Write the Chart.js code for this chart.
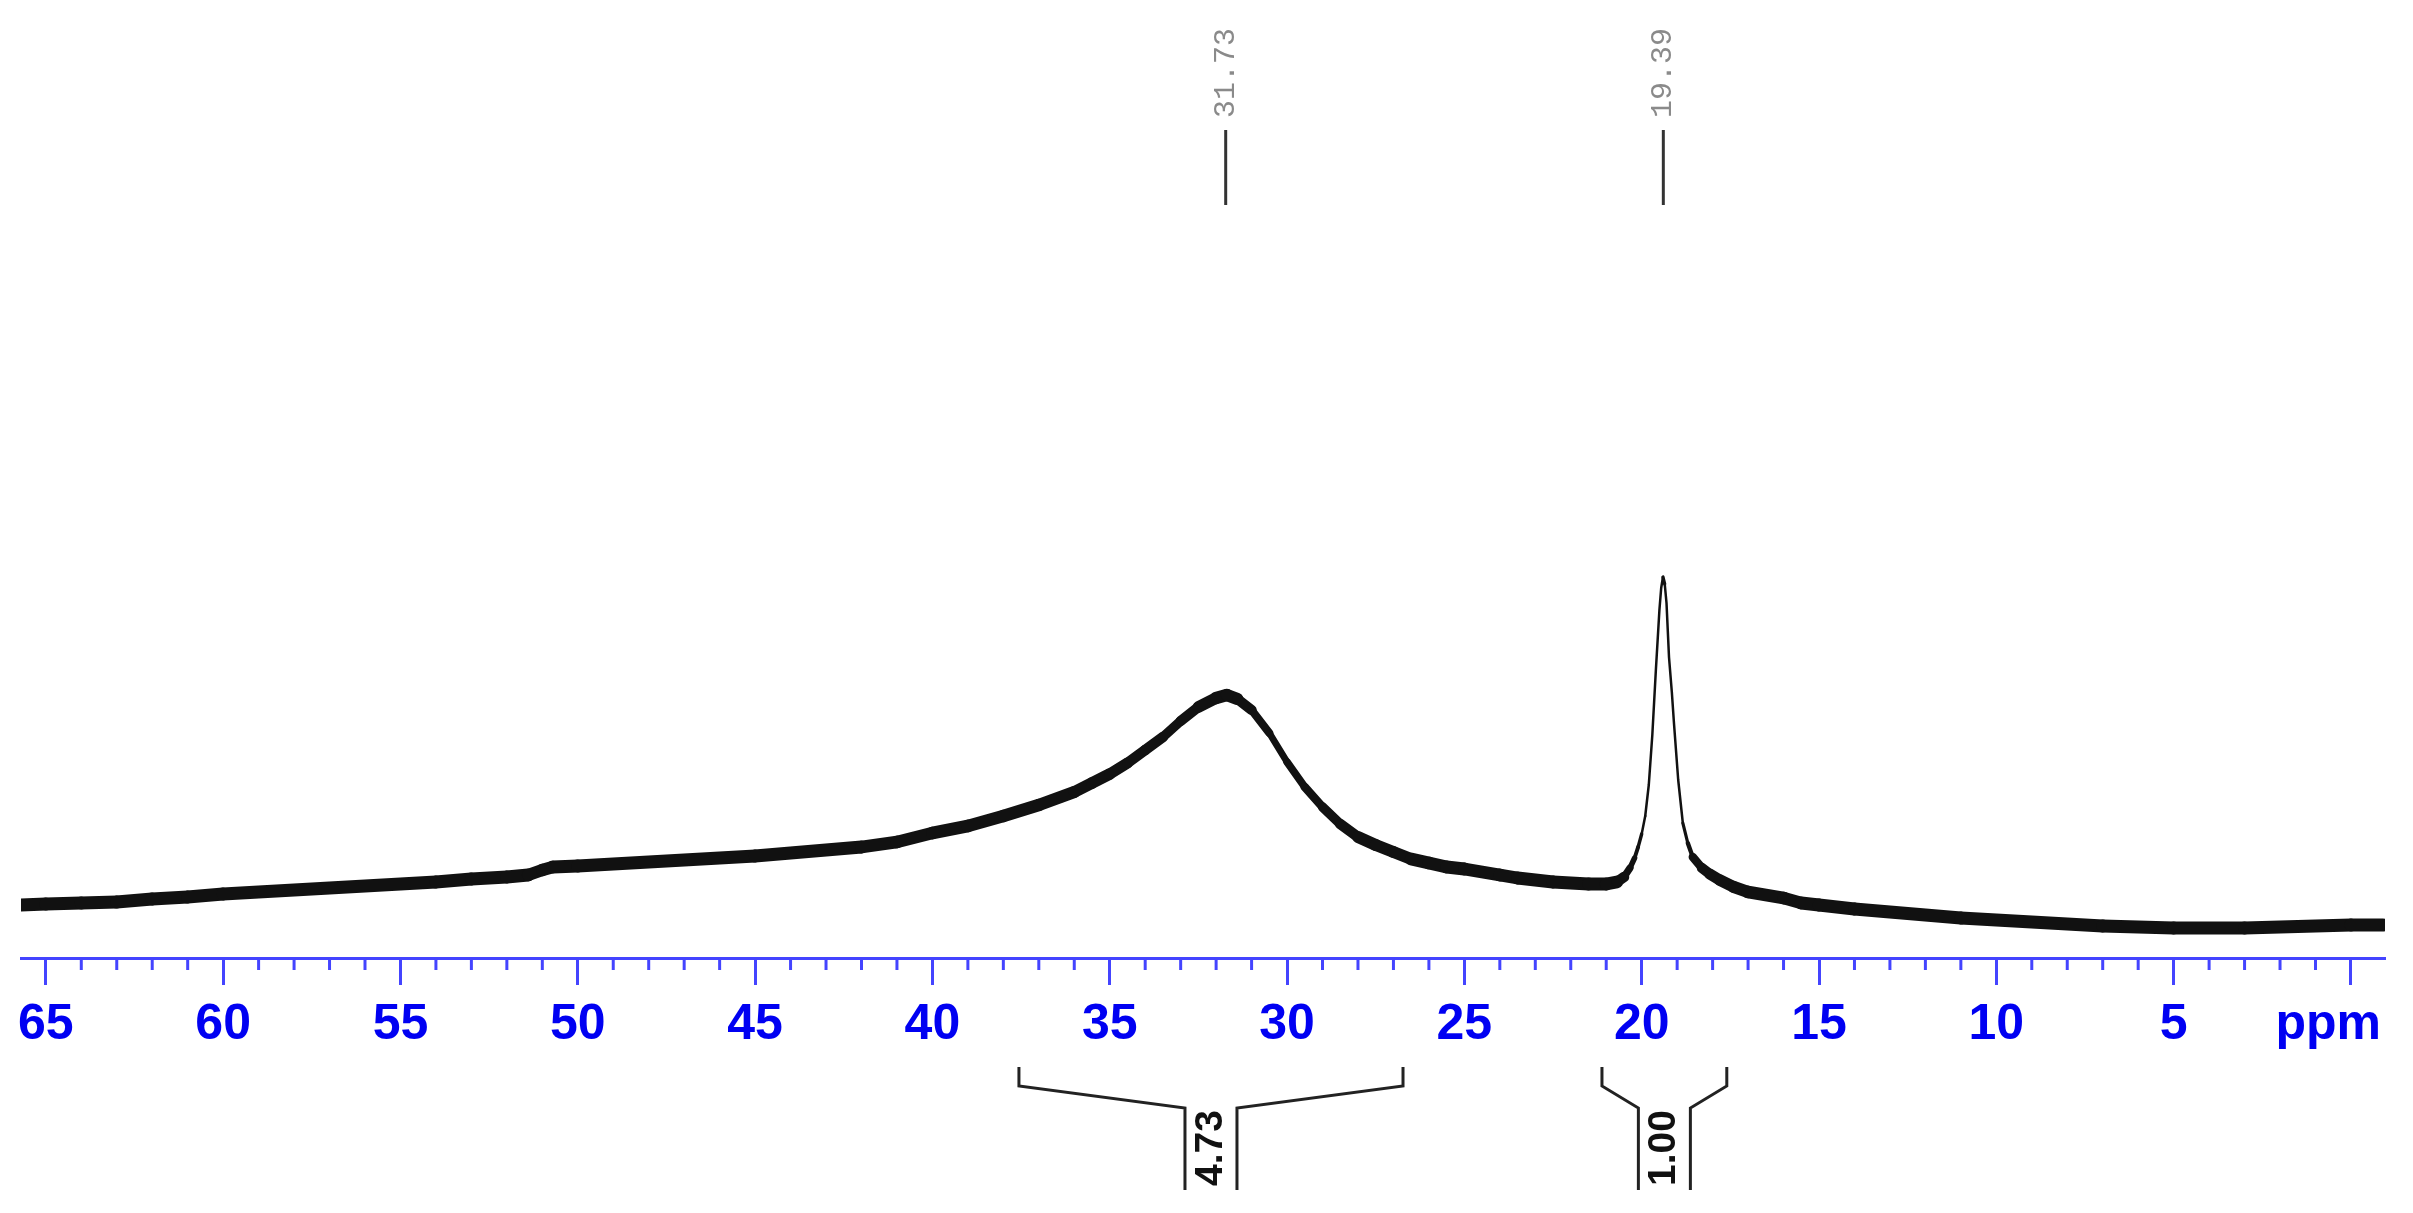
<!DOCTYPE html>
<html>
<head>
<meta charset="utf-8">
<script src="https://cdn.jsdelivr.net/npm/chart.js@4.4.0/dist/chart.umd.min.js"></script>
<style>
  html, body { margin: 0; padding: 0; background: #fff; }
  #wrap { width: 2413px; height: 1213px; position: relative; }
</style>
</head>
<body>
<div id="wrap"><canvas id="spectrum"></canvas></div>
<script>
// Spectrum data (chemical shift in ppm, intensity in arbitrary units)
const shiftPpm = [
  65.7, 65.0, 64.0, 63.0, 62.0, 61.0, 60.0, 59.0, 58.0, 57.0, 56.0, 55.0, 54.0, 53.0, 52.0,
  51.4, 51.0, 50.7, 50.0, 49.0, 48.0, 47.0, 46.0, 45.0, 44.0, 43.0, 42.0, 41.0, 40.0, 39.0,
  38.0, 37.0, 36.0, 35.5, 35.0, 34.5, 34.0, 33.5, 33.0, 32.5, 32.0, 31.7, 31.4, 31.0, 30.5,
  30.0, 29.5, 29.0, 28.5, 28.0, 27.5, 27.0, 26.5, 26.0, 25.5, 25.0, 24.5, 24.0, 23.5, 23.0,
  22.5, 22.0, 21.5, 21.0, 20.7, 20.5, 20.33, 20.2, 20.1, 20.0, 19.9, 19.8, 19.7, 19.6, 19.5,
  19.45, 19.4, 19.35, 19.3, 19.23, 19.15, 19.09, 18.97, 18.84, 18.7, 18.56, 18.3, 18.08, 17.8, 17.4,
  17.0, 16.5, 16.0, 15.5, 15.0, 14.0, 13.0, 12.0, 11.0, 10.0, 9.0, 8.0, 7.0, 6.0, 5.0,
  4.0, 3.0, 2.0, 1.0, 0.0, -0.9
];
const intensity = [
  35, 36, 37, 38, 41, 43, 46, 48, 50, 52, 54, 56, 58, 61, 63,
  65, 70, 73, 74, 76, 78, 80, 82, 84, 87, 90, 93, 98, 107, 114,
  124, 135, 148, 157, 166, 177, 190, 203, 219, 233, 242, 245, 241, 230, 207,
  178, 153, 133, 116, 103, 95, 88, 81, 77, 73, 71, 68, 65, 62, 60,
  58, 57, 56, 56, 58, 63, 72, 82, 93, 106, 124, 155, 205, 270, 330,
  352, 363, 356, 337, 283, 248, 217, 160, 117, 97, 83, 72, 66, 60, 53,
  48, 45, 42, 37, 35, 31, 28, 25, 22, 20, 18, 16, 14, 13, 12,
  12, 12, 13, 14, 15, 15
];

// Axis
const majorTicks = [0, 5, 10, 15, 20, 25, 30, 35, 40, 45, 50, 55, 60, 65];
const axisMin = -0.96;
const axisMax = 65.7;

// Peak picking
const peakShifts = [31.73, 19.39];

// Integrals
const integralFrom = [37.56, 21.12];
const integralTo = [26.73, 17.60];
const integralValues = ['4.73', '1.00'];

const axisBlue = '#4444ff';
const labelBlue = '#0000f2';

const nmrDecor = {
    id: 'nmrDecor',
    afterDraw(chart) {
        const ctx = chart.ctx;
        const xs = chart.scales.x;
        const base = xs.top;
        ctx.save();

        // minor ticks every 1 ppm
        ctx.strokeStyle = axisBlue;
        ctx.lineWidth = 3;
        for (let v = Math.ceil(xs.min); v <= Math.floor(xs.max); v++) {
            if (v % 5 === 0) continue;
            const px = xs.getPixelForValue(v);
            ctx.beginPath();
            ctx.moveTo(px, base);
            ctx.lineTo(px, base + 12);
            ctx.stroke();
        }

        // unit label in place of the 0 label
        ctx.fillStyle = labelBlue;
        ctx.font = 'bold 50px "Liberation Sans", Arial, sans-serif';
        ctx.textAlign = 'right';
        ctx.textBaseline = 'middle';
        ctx.fillText('ppm', xs.right - 4, base + 27 + 10 + 30);

        // peak labels at the top
        peakShifts.forEach(p => {
            const px = xs.getPixelForValue(p);
            ctx.strokeStyle = '#333';
            ctx.lineWidth = 3;
            ctx.beginPath();
            ctx.moveTo(px, 130);
            ctx.lineTo(px, 205);
            ctx.stroke();
            ctx.save();
            ctx.translate(px, 118);
            ctx.rotate(-Math.PI / 2);
            ctx.fillStyle = '#8a8a8a';
            ctx.font = '30px "Liberation Mono", "DejaVu Sans Mono", monospace';
            ctx.textAlign = 'left';
            ctx.textBaseline = 'middle';
            ctx.fillText(p.toFixed(2), 0, 0);
            ctx.restore();
        });

        // integral brackets below the axis
        integralFrom.forEach((from, i) => {
            const xl = xs.getPixelForValue(from);
            const xr = xs.getPixelForValue(integralTo[i]);
            const xc = xs.getPixelForValue((from + integralTo[i]) / 2);
            const gap = 26;
            ctx.strokeStyle = '#222';
            ctx.lineWidth = 3;
            ctx.lineJoin = 'miter';
            ctx.beginPath();
            ctx.moveTo(xl, base + 109);
            ctx.lineTo(xl, base + 128);
            ctx.lineTo(xc - gap, base + 150);
            ctx.lineTo(xc - gap, base + 232);
            ctx.moveTo(xr, base + 109);
            ctx.lineTo(xr, base + 128);
            ctx.lineTo(xc + gap, base + 150);
            ctx.lineTo(xc + gap, base + 232);
            ctx.stroke();
            ctx.save();
            ctx.translate(xc, base + 190);
            ctx.rotate(-Math.PI / 2);
            ctx.fillStyle = '#111';
            ctx.font = 'bold 39px "Liberation Sans", Arial, sans-serif';
            ctx.textAlign = 'center';
            ctx.textBaseline = 'middle';
            ctx.fillText(integralValues[i], 0, 0);
            ctx.restore();
        });

        ctx.restore();
    }
};

const points = shiftPpm.map((p, i) => ({ x: p, y: intensity[i] }));

new Chart(document.getElementById('spectrum'), {
    type: 'line',
    data: {
        datasets: [{
            data: points,
            borderColor: '#111',
            borderWidth: 12,
            borderCapStyle: 'round',
            borderJoinStyle: 'round',
            pointRadius: 0,
            tension: 0,
            fill: false,
            segment: {
                // noisy trace: keep a constant vertical thickness
                borderWidth: (c) => {
                    const dx = c.p1.x - c.p0.x;
                    const dy = c.p1.y - c.p0.y;
                    const len = Math.sqrt(dx * dx + dy * dy) || 1;
                    return Math.max(2.5, 13 * Math.abs(dx) / len);
                }
            }
        }]
    },
    options: {
        responsive: true,
        maintainAspectRatio: false,
        animation: false,
        devicePixelRatio: 1,
        layout: { padding: { left: 21, right: 28, top: 0, bottom: 0 } },
        plugins: {
            legend: { display: false },
            tooltip: { enabled: false }
        },
        scales: {
            x: {
                type: 'linear',
                reverse: true,
                min: axisMin,
                max: axisMax,
                afterBuildTicks: (scale) => {
                    scale.ticks = majorTicks.map(v => ({ value: v }));
                },
                afterFit: (scale) => {
                    scale.height = 255;
                },
                border: { display: true, color: axisBlue, width: 3 },
                grid: {
                    drawOnChartArea: false,
                    drawTicks: true,
                    tickLength: 27,
                    tickWidth: 3,
                    tickColor: axisBlue,
                    color: axisBlue
                },
                ticks: {
                    autoSkip: false,
                    maxRotation: 0,
                    padding: 10,
                    color: labelBlue,
                    font: { family: '"Liberation Sans", Arial, sans-serif', weight: 'bold', size: 50 },
                    callback: (v) => v === 0 ? '' : String(v)
                }
            },
            y: {
                display: false,
                min: -18,
                max: 940
            }
        }
    },
    plugins: [nmrDecor]
});
</script>
</body>
</html>
